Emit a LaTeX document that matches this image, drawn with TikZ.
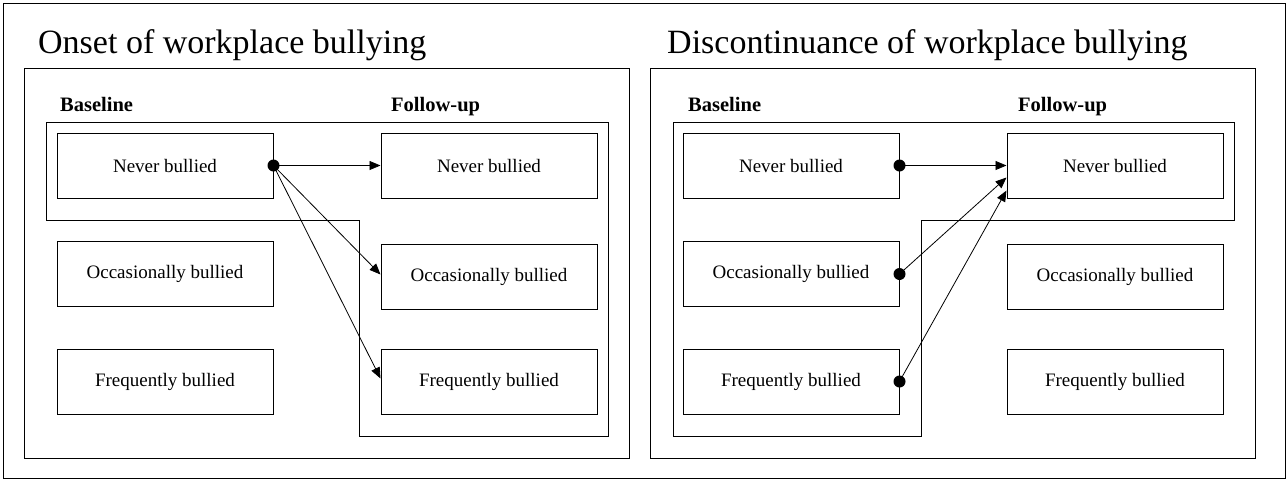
\documentclass[tikz,border=0pt]{standalone}
\usepackage{fontspec}
\setmainfont{Liberation Serif}
\usetikzlibrary{arrows.meta,calc}
\begin{document}
\begin{tikzpicture}[x=1pt,y=-1pt,
  box/.style={draw=black, line width=1pt, minimum width=216pt, minimum height=65pt, inner sep=0pt, font=\fontsize{19}{22}\selectfont},
  ttl/.style={anchor=base west, inner sep=0pt, font=\fontsize{34}{40}\selectfont},
  hdr/.style={anchor=base west, inner sep=0pt, font=\fontsize{20.5}{24}\selectfont\bfseries},
  frame/.style={draw=black, line width=1pt},
  conn/.style={draw=black, line width=0.8pt, -{Triangle[length=11pt,width=9pt]}},
  dot/.style={fill=black}]
\useasboundingbox (0,0) rectangle (1288,480);
% outer frame
\draw[frame] (3.5,3.5) rectangle (1285.5,478.5);

% ---------- Panel 1 ----------
\node[ttl] (t1) at (38,53) {Onset of workplace bullying};
\draw[frame] (24,68) rectangle (629,458);
\node[hdr] (b1) at (60,111) {Baseline};
\node[hdr] (u1) at (391,111) {Follow-up};
\draw[frame] (46,122) -- (608,122) -- (608,436) -- (359,436) -- (359,220) -- (46,220) -- cycle;
\node[box] (an) at (165,165.5) {Never bullied};
\node[box] (ao) at (165,274) {Occasionally bullied};
\node[box] (af) at (165,381.5) {Frequently bullied};
\node[box] (bn) at (489,165.5) {Never bullied};
\node[box] (bo) at (489,276.5) {Occasionally bullied};
\node[box] (bf) at (489,381.5) {Frequently bullied};
\draw[conn] (an.east) -- (bn.west);
\draw[conn] (an.east) -- ($(bo.west)+(0,-2)$);
\draw[conn] (an.east) -- ($(bf.west)+(0,-3)$);
\fill[dot] (an.east) circle (6);

% ---------- Panel 2 ----------
\node[ttl] (t2) at (667,53) {Discontinuance of workplace bullying};
\draw[frame] (650,68) rectangle (1255,458);
\node[hdr] (b2) at (688,111) {Baseline};
\node[hdr] (u2) at (1018,111) {Follow-up};
\draw[frame] (673,122) -- (1234,122) -- (1234,220) -- (921,220) -- (921,436) -- (673,436) -- cycle;
\node[box] (cn) at (791,165.5) {Never bullied};
\node[box] (co) at (791,274) {Occasionally bullied};
\node[box] (cf) at (791,381.5) {Frequently bullied};
\node[box] (dn) at (1115,165.5) {Never bullied};
\node[box] (do) at (1115,276.5) {Occasionally bullied};
\node[box] (df) at (1115,381.5) {Frequently bullied};
\draw[conn] (cn.east) -- (dn.west);
\draw[conn] (co.east) -- ($(dn.west)+(0,12)$);
\draw[conn] (cf.east) -- ($(dn.west)+(0,25)$);
\fill[dot] (cn.east) circle (6);
\fill[dot] (co.east) circle (6);
\fill[dot] (cf.east) circle (6);
\end{tikzpicture}
\end{document}
